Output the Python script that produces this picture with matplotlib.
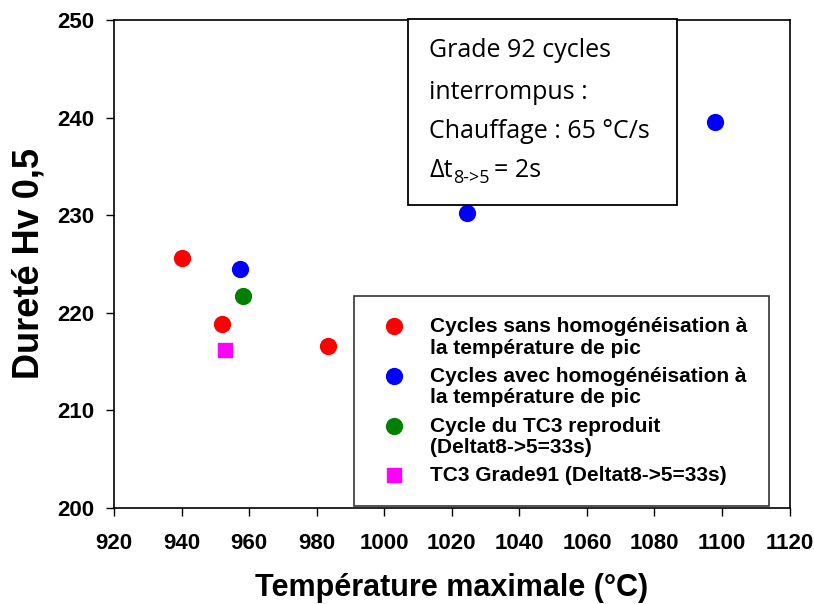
import matplotlib
matplotlib.use("Agg")
import matplotlib.pyplot as plt
from matplotlib.patches import Rectangle

# Data
sans_x = [940.1, 951.9, 983.4]
sans_y = [225.6, 218.8, 216.6]
avec_x = [957.3, 1024.5, 1098.0]
avec_y = [224.5, 230.2, 239.5]
tc3_x = [958.3]
tc3_y = [221.7]
g91_x = [953.0]
g91_y = [216.2]

labels = [
    "Cycles sans homogénéisation à\nla température de pic",
    "Cycles avec homogénéisation à\nla température de pic",
    "Cycle du TC3 reproduit\n(Deltat8->5=33s)",
    "TC3 Grade91 (Deltat8->5=33s)",
]

plt.rcParams['font.family'] = ['Liberation Sans', 'DejaVu Sans']

fig = plt.figure(figsize=(8.14, 6.04), dpi=100)
ax = fig.add_axes([0.140, 0.159, 0.830, 0.808])

ax.scatter(sans_x, sans_y, s=130, c="#ff0000", marker="o", label=labels[0], zorder=3)
ax.scatter(avec_x, avec_y, s=130, c="#0000ff", marker="o", label=labels[1], zorder=3)
ax.scatter(tc3_x, tc3_y, s=130, c="#008000", marker="o", label=labels[2], zorder=3)
ax.scatter(g91_x, g91_y, s=110, c="#ff00ff", marker="s", label=labels[3], zorder=3)

ax.set_xlim(920, 1120)
ax.set_ylim(200, 250)
ax.set_xticks(range(920, 1121, 20))
ax.set_yticks(range(200, 251, 10))
ax.tick_params(direction="out", length=6, width=1, labelsize=16)
ax.tick_params(axis="x", pad=12)
ax.tick_params(axis="y", pad=8)
for lab in ax.get_xticklabels() + ax.get_yticklabels():
    lab.set_fontweight("bold")
for sp in ax.spines.values():
    sp.set_linewidth(1.2)

ax.set_xlabel("Température maximale (°C)", fontsize=22, fontweight="bold", labelpad=14)
ax.set_ylabel("Dureté Hv 0,5", fontsize=26, fontweight="bold", labelpad=8)

leg = ax.legend(loc="lower right", bbox_to_anchor=(0.969, 0.004), frameon=True,
                fancybox=False, edgecolor="#333333", framealpha=1,
                prop={"family": "Liberation Sans", "weight": "bold", "size": 15},
                handletextpad=0.85, borderpad=1.0, labelspacing=0.45,
                handlelength=1.8, borderaxespad=0)
leg.get_frame().set_linewidth(1.2)
for t in leg.get_texts():
    t.set_linespacing(1.15)
# markers next to the first line of each label
for col in leg._legend_handle_box.get_children():
    for row in col.get_children():
        row.align = "top"

# annotation box
ax.add_patch(Rectangle((0.435, 0.621), 0.399, 0.381, transform=ax.transAxes,
                       fill=True, facecolor="white", edgecolor="black",
                       linewidth=1.3, zorder=4, clip_on=False))
box_font = {"family": "Open Sans", "size": 18}
lines = ["Grade 92 cycles", "interrompus :", "Chauffage : 65 °C/s"]
ys = [0.937, 0.852, 0.772]
for txt, yy in zip(lines, ys):
    ax.text(0.467, yy, txt, transform=ax.transAxes, va="center", ha="left",
            zorder=5, **box_font)
t1 = ax.text(0.467, 0.691, "Δt", transform=ax.transAxes, va="center", ha="left",
             zorder=5, **box_font)
t2 = ax.annotate("8->5", xy=(1, 0), xycoords=t1, va="baseline", ha="left",
                 xytext=(0, 0), textcoords="offset points",
                 zorder=5, family="Open Sans", size=13)
ax.annotate("= 2s", xy=(1, 0), xycoords=(t2, t1), va="bottom", ha="left",
            xytext=(3, 0), textcoords="offset points",
            zorder=5, **box_font)

fig.savefig("out.png", dpi=100)
